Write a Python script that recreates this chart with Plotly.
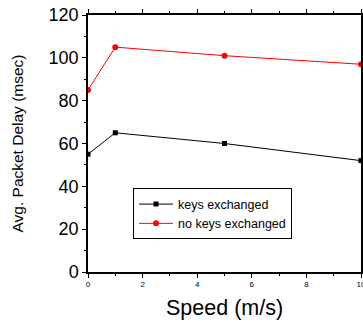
import plotly.graph_objects as go

speed = [0, 1, 5, 10]
keys_exchanged = [55, 65, 60, 52]
no_keys_exchanged = [85, 105, 101, 97]
x_ticks = [0, 2, 4, 6, 8, 10]
y_ticks = [0, 20, 40, 60, 80, 100, 120]

fig = go.Figure()
fig.add_trace(go.Scatter(x=speed, y=keys_exchanged, mode="lines+markers",
                         name="keys exchanged",
                         line=dict(color="black", width=1),
                         marker=dict(symbol="square", size=5, color="black")))
fig.add_trace(go.Scatter(x=speed, y=no_keys_exchanged, mode="lines+markers",
                         name="no keys exchanged",
                         line=dict(color="red", width=1),
                         marker=dict(symbol="circle", size=6, color="red")))

fig.update_layout(
    width=363, height=323,
    margin=dict(l=88, r=2, t=15, b=51, autoexpand=False),
    plot_bgcolor="white", paper_bgcolor="white",
    font=dict(family="Liberation Sans, Arial", color="black"),
    legend=dict(x=0.165, y=0.325, xanchor="left", yanchor="top",
                bordercolor="black", borderwidth=1, bgcolor="white",
                font=dict(size=12.5), tracegroupgap=0, itemwidth=34),
    showlegend=True,
    annotations=[
        dict(text="Speed (m/s)", xref="paper", yref="paper", x=0.5, y=0,
             yshift=-36, xanchor="center", yanchor="middle", showarrow=False,
             font=dict(size=21.5)),
        dict(text="Avg. Packet Delay (msec)", xref="paper", yref="paper",
             x=0, y=0.5, xshift=-71, xanchor="center", yanchor="middle",
             textangle=-90, showarrow=False, font=dict(size=15.5)),
    ],
)
fig.update_xaxes(range=[0, 10], tickvals=x_ticks, ticktext=[str(v) for v in x_ticks],
                 automargin=False, ticklabeloverflow="allow",
                 showgrid=False, zeroline=False, showline=True, linecolor="black",
                 linewidth=1.5, mirror="ticks", ticks="outside", ticklen=4,
                 tickwidth=1, tickcolor="black", tickfont=dict(size=8),
                 minor=dict(dtick=1, ticks="outside", ticklen=2, tickcolor="black"))
fig.update_yaxes(range=[0, 120], tickvals=y_ticks, automargin=False,
                 showgrid=False, zeroline=False, showline=True, linecolor="black",
                 linewidth=1.5, mirror="ticks", ticks="outside", ticklen=4,
                 tickwidth=1, tickcolor="black", tickfont=dict(size=18),
                 minor=dict(dtick=10, ticks="outside", ticklen=2, tickcolor="black"))

fig.write_html("out.html", config={"displayModeBar": False},
               post_script="document.body.style.margin='0';document.body.style.overflow='hidden';")
